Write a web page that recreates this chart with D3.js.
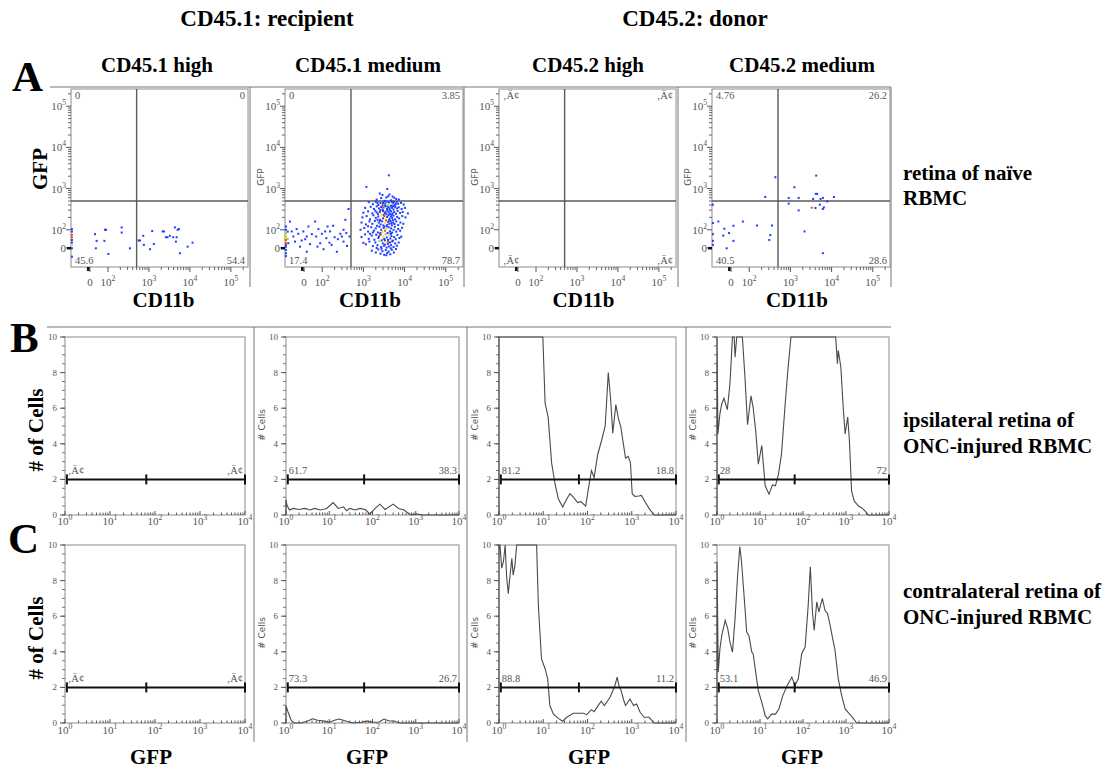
<!DOCTYPE html>
<html><head><meta charset="utf-8">
<script src="https://cdn.jsdelivr.net/npm/d3@7"></script>
<style>body{margin:0;background:#fff} text{font-family:"Liberation Serif","Times New Roman",serif}</style>
</head><body>
<svg id="c" width="1116" height="772"></svg>
<script>
// ---------------- DATA ----------------
const colHeaders = ["CD45.1: recipient", "CD45.2: donor"];
const subHeaders = ["CD45.1 high", "CD45.1 medium", "CD45.2 high", "CD45.2 medium"];
const rowLabels = [["retina of naïve", "RBMC"], ["ipsilateral retina of", "ONC-injured RBMC"], ["contralateral retina of", "ONC-injured RBMC"]];
const panelLetters = ["A", "B", "C"];
const NA = "\u201AÄ\u00A2";
// quadrant percentages: [UL, UR, LL, LR]
const quadPct = [["0", "0", "45.6", "54.4"], ["0", "3.85", "17.4", "78.7"], [NA, NA, NA, NA], ["4.76", "26.2", "40.5", "28.6"]];
const quadGate = [500, 500];
const scatterTicks = [0, 100, 1000, 10000, 100000];
// histogram gate percentages [left, right]
const gatePctB = [[NA, NA], ["61.7", "38.3"], ["81.2", "18.8"], ["28", "72"]];
const gatePctC = [[NA, NA], ["73.3", "26.7"], ["88.8", "11.2"], ["53.1", "46.9"]];
const histGate = [1.1, 64, 10000];
const histXTicks = [1, 10, 100, 1000, 10000];
const histYTicks = [0, 2, 4, 6, 8, 10];

// scatter events [CD11b, GFP, densityLevel]
const scatterA1 = [[-100,104],[-100,90],[-100,72,3],[-100,59,3],[-100,44],[-100,29],[-100,17,2],[-100,-2],[-100,-48],
 [28,76],[83,100],[89,100],[37,39],[80,39],[33,-2],[102,-33],[216,114],[216,85],[344,-2],[560,41],[603,41],[725,67],[750,17],
 [1060,-7],[1200,93],[1320,22],[2160,91],[2320,91],[2590,59],[2840,59],[3250,67],[3900,59],[4300,114],[4750,59],[5010,100],
 [5400,104],[5700,-29],[4550,35],[8800,7],[11600,29]];
const scatterA2 = [
 [-100,120],[-100,100],[-100,82,1],[-100,72,2],[-100,63,1],[-100,54,2],[-100,44,3],[-100,35,2],[-100,26,3],[-100,17],[-100,7],[-100,-11],[-100,-29],[-100,-45],[-90,90],[-90,50,1],
 [-78,159],[-68,91],[-59,63],[-41,104],[-32,78],[-13,41],[-4,91],[15,63],[24,120],[33,21],[43,76],[61,159],[67,63],[79,104],[89,26],[98,78],
 [108,-7],[126,54],[135,120],[155,91],[169,17],[184,125],[200,59],[227,-21],[240,48],[275,78],[330,35],[365,175],[385,82],[400,11],[435,320],
 [460,63],[330,100],[-22,7],[15,-21],[-87,26],[-50,35],[6,48],[74,7],[150,29],[300,63],[118,91],
 [4150,2100],[1180,1100],[3800,980],[2500,760],
 [2900,700],[4300,720],[5100,640],[3600,610],[6300,560],[2100,540],[4700,520],[3300,505],[5600,600],[7300,540],[4000,650],[2700,590],
 [1350,470],[1700,420],[2000,480],[2300,400],[2600,450],[2900,390],[3100,470],[3400,430],[3700,480],[3900,400,1],[4200,460],[4500,420,2],
 [4900,475],[5300,440],[5800,400],[6400,470],[7000,430],[8200,450],[9500,410],[3000,440],[4700,390],[5500,480],[2200,450],[6100,420],
 [1100,340],[1500,360],[1800,320],[2100,370],[2400,330],[2700,355],[2950,310],[3200,345,1],[3500,370],[3750,320],[4000,355],[4300,330],
 [4600,370],[5000,340],[5400,310],[5900,360],[6500,330],[7200,350],[8500,320],[10200,340],[2600,300],[4400,300],[3300,380],[5200,375],[3000,350,3],
 [1000,260],[1300,280],[1650,250],[1950,290],[2250,240],[2500,270],[2800,235,2],[3000,285],[3300,255],[3600,240],[3850,290],[4100,265],
 [4400,240],[4700,280],[5100,250],[5600,270],[6200,245],[6800,285],[7800,255],[9000,270],[2100,265],[3450,275],[4900,232],[12000,250],
 [950,200],[1200,215],[1450,180],[1750,225],[2000,195],[2300,210],[2550,175],[2750,220,2],[3000,190],[3250,215,3],[3500,180,2],[3800,205],
 [4050,225],[4350,185],[4650,210],[5000,195],[5400,220],[5900,180],[6600,205],[7400,190],[8800,215],[10500,200],[2200,175],[3100,228],[4200,170],[5200,172],
 [900,150],[1150,135],[1400,160],[1650,140],[1900,165],[2150,125],[2350,150],[2600,135],[2850,160],[3050,128],[3300,145,2],[3550,168,3],
 [3800,132],[4000,155],[4300,140],[4600,162],[4900,128],[5300,150],[5700,138],[6300,160],[7000,130],[7900,150],[9300,140],[2500,165],[3700,122],[4800,145],[1300,122],
 [850,100],[1050,110],[1300,90],[1550,115],[1800,95],[2000,108],[2250,85],[2450,118],[2700,100],[2900,88,2],[3100,112],[3350,95,3],
 [3600,105,2],[3850,82],[4100,115],[4400,92],[4700,108],[5000,85],[5400,100],[5800,118],[6300,90],[7000,105],[7800,95],[8700,112],[2600,82],[3250,120],[4550,80],[1700,85],
 [900,60],[1100,75],[1350,50],[1600,68],[1850,45],[2050,72],[2300,55],[2550,78],[2800,42],[3000,62,2],[3200,50],[3450,75,1],[3700,58],[3950,44],
 [4200,70,2],[4500,52],[4800,65],[5200,40],[5600,60],[6100,48],[6700,72],[7500,55],[8300,62],[2400,64],[3350,42],[4650,78],[1450,78],[2600,72,3],
 [1150,20],[1400,35],[1700,10],[1950,30],[2200,15],[2450,38,1],[2700,5],[2950,25],[3150,12],[3400,33,2],[3650,2],[3900,22],[4150,8],[4400,30],
 [4700,15],[5000,36],[5400,5],[5900,25],[6500,12],[7200,30],[2100,0],[3300,18],[4600,-2],[1000,28],[4000,33,3],
 [1600,-15],[2000,-25],[2300,-8],[2600,-32],[2900,-18],[3200,-38],[3500,-12],[3800,-28],[4100,-20],[4500,-35],[4900,-10],[5500,-25],[2750,-5],[3600,-40],[6200,-6]];
const scatterA3 = [];
const scatterA4 = [[-100,407],[-100,146],[-100,76],[-100,39],[-100,17],
 [-70,159],[-37,106],[-43,68],[-24,-2],[-11,82],[13,125],[13,39],[65,159],[154,127],[245,627],[307,44],[325,71],[357,127],[431,1890],
 [910,594],[910,431],[1250,1080],[1590,594],[1590,296],[2200,91],[3300,344,3],[3570,560],[4060,338],[4140,745],[4220,2070],[4460,745],
 [5170,407],[5380,560],[6150,321],[6150,594],[6500,350],[6150,-29],[7850,490],[11400,627]];

// histograms [GFP, # cells]
const histB1 = [];
const histB2 = [[1,0],[1,0.85],[1.05,0.56],[1.2,0.28],[1.48,0.37],[1.95,0.31],[2.75,0.37],[3.55,0.28],[4.68,0.37],[6.17,0.28],[8.7,0.37],[12.3,0.7],[16.2,0.37],[21.4,0.46],[25.1,0.24],[30.2,0.37],[39.8,0.28],[51.3,0.37],[67.6,0.31],[87,0.06],[115,0.37],[148,0.61],[195,0.31],[302,0.61],[398,0.37],[537,0.28],[676,0.09],[813,0],[1047,0.06],[1380,0],[10000,0]];
const histB3 = [[1,0],[1,10],[9.8,10],[11,6.3],[12.9,5.5],[15.5,2.9],[18.6,1.7],[22,0.9],[27.5,0.45],[34,0.9],[40,1.2],[48,1.0],[60,0.7],[71,0.75],[91,0.5],[105,1.5],[123,2.5],[141,2.1],[170,3.4],[209,4.2],[251,5.0],[295,8.0],[331,6.6],[372,4.6],[437,6.2],[501,5.4],[562,5.0],[646,4.0],[724,3.2],[832,3.3],[933,2.95],[1023,1.2],[1175,1.05],[1445,1.07],[1660,1.1],[2042,0.7],[2570,0.3],[3236,0],[10000,0]];
const histB4 = [[1,0],[1,10],[1.05,4.55],[1.17,5.7],[1.29,6.24],[1.45,6.56],[1.74,5.92],[2.0,7.37],[2.29,10],[2.51,10],[2.63,8.87],[2.88,10],[3.89,10],[4.47,7.74],[5.13,5.07],[6.17,6.7],[6.92,6.05],[7.94,4.74],[9.12,2.86],[11,3.9],[13.2,1.64],[16.2,1.17],[19.5,1.69],[22.9,1.64],[26.9,2.3],[31.6,3.42],[38,6.05],[43.7,7.93],[52.5,10],[575,10],[631,8.5],[661,9.25],[759,8.3],[871,5.86],[955,4.55],[1096,5.5],[1202,4.17],[1349,1.35],[1549,0.79],[1950,0.5],[2291,0.41],[2754,0.23],[3311,0],[10000,0]];
const histC1 = [];
const histC2 = [[1,0],[1,0.98],[1.12,0.6],[1.32,0.15],[1.55,0],[2.24,0],[3.16,0.11],[4.17,0.24],[5.37,0.15],[7.59,0.11],[10,0.04],[13.2,0.15],[17,0.22],[24,0.11],[34.7,0],[53.7,0.04],[75.9,0.11],[100,0.04],[141,0.06],[186,0.22],[240,0.11],[316,0.11],[417,0],[10000,0]];
const histC3 = [[1,0],[1,10],[1.05,10],[1.15,8.7],[1.26,9.06],[1.38,10],[1.48,8.3],[1.62,7.27],[1.78,8.3],[1.95,9.25],[2.09,8.3],[2.29,8.87],[2.51,10],[7.08,10],[7.76,6.6],[9.12,3.6],[11,3.05],[12.6,2.48],[14.1,0.98],[17,0.5],[21.9,0.26],[27.5,0.1],[33.9,0.32],[47.9,0.55],[81.3,0.55],[95.5,0.47],[123,0.75],[141,0.64],[204,1.22],[240,0.98],[324,1.45],[417,2.1],[468,2.58],[513,2.1],[575,1.82],[646,1.35],[724,0.98],[912,1.35],[1096,0.98],[1288,1.07],[1549,0.6],[1905,0.32],[2455,0.32],[3236,0],[10000,0]];
const histC4 = [[1,0],[1,9.06],[1.07,2.86],[1.17,4.17],[1.29,4.92],[1.55,5.77],[1.78,5.3],[2.0,4.55],[2.29,3.98],[2.63,5.86],[3.02,8.3],[3.39,9.9],[3.72,9.06],[4.37,6.8],[4.9,5.11],[5.5,4.92],[6.46,3.98],[6.92,3.89],[7.94,2.86],[9.12,1.82],[11,1.17],[13.2,0.41],[15.1,0.23],[18.6,0.5],[22.9,0.5],[27.5,0.79],[33.9,1.54],[42.7,2.1],[55,2.58],[64.6,2.1],[77.6,2.48],[93.3,3.89],[112,4.27],[132,6.6],[148,8.77],[166,6.24],[182,5.2],[209,6.8],[234,6.24],[282,7.0],[324,6.33],[372,6.15],[427,5.5],[490,4.74],[550,4.17],[661,2.48],[794,1.54],[955,0.79],[1122,0.6],[1413,0.32],[1778,0],[10000,0]];

// ---------------- DRAWING ----------------
const svg = d3.select('#c');
const serif = '"Liberation Serif", "Times New Roman", serif';
const sans = '"DejaVu Sans", sans-serif';
const dens = ['#1f3cff', '#7ee04a', '#f0e030', '#ff4422'];
const frameCol = '#8c8c8c', tickTxt = '#555';

function txt(x, y, s, size, o = {}) {
  return svg.append('text').attr('x', x).attr('y', y).style('font-family', o.ff || serif)
    .style('font-weight', o.fw || 'bold').style('font-size', size + 'px').attr('fill', o.fill || '#000')
    .attr('text-anchor', o.anchor || 'start').text(s);
}
function rtxt(x, y, s, size, o = {}) {
  return svg.append('text').attr('transform', `translate(${x},${y}) rotate(-90)`)
    .style('font-family', o.ff || serif).style('font-weight', o.fw || 'bold').style('font-size', size + 'px')
    .attr('fill', o.fill || '#000').attr('text-anchor', 'middle').text(s);
}
function small(g, x, y, size, anchor) {
  return g.append('text').attr('x', x).attr('y', y).attr('text-anchor', anchor)
    .style('font-family', serif).style('font-size', size + 'px').attr('fill', tickTxt);
}
function powLabel(sel, v) {
  if (v === 0) { sel.text('0'); return; }
  const e = Math.round(Math.log10(v));
  sel.append('tspan').text('10');
  sel.append('tspan').attr('dy', -5).style('font-size', '0.7em').text(e);
}
function line(g, x1, y1, x2, y2, col, w) {
  g.append('line').attr('x1', x1).attr('y1', y1).attr('x2', x2).attr('y2', y2).attr('stroke', col).attr('stroke-width', w || 1);
}

// headers
txt(267, 26, colHeaders[0], 23, {anchor: 'middle'});
txt(695, 26, colHeaders[1], 23, {anchor: 'middle'});
[157, 368, 588, 802].forEach((cx, i) => txt(cx, 72, subHeaders[i], 21, {anchor: 'middle'}));
txt(12, 91, panelLetters[0], 43);
txt(10, 352, panelLetters[1], 43);
txt(8, 553, panelLetters[2], 43);
txt(903, 180, rowLabels[0][0], 21); txt(903, 205, rowLabels[0][1], 21);
txt(903, 427, rowLabels[1][0], 21); txt(903, 453, rowLabels[1][1], 21);
txt(903, 598, rowLabels[2][0], 21); txt(903, 624, rowLabels[2][1], 21);

// panel grid lines
const gl = svg.append('g');
line(gl, 50, 87, 891, 87, '#777');
[250, 464, 678, 891].forEach(x => line(gl, x, 87, x, 287, '#777'));
line(gl, 47, 327, 891, 327, '#777');
[254, 467, 686].forEach(x => line(gl, x, 327, x, 742, '#777'));

// ----- scatter (row A) -----
function biex(r0, r1) {
  const p = r0 + (r1 - r0) * 37 / 177;
  const lin = d3.scaleLinear().domain([-105, 100]).range([r0, p]);
  const lg = d3.scaleLog().domain([100, 262144]).range([p, r1]);
  return v => (v < 100 ? lin(v) : lg(v));
}
const aCols = [{l: 71, r: 248}, {l: 285, r: 463}, {l: 499, r: 676}, {l: 712, r: 890}];
const aTop = 89, aBot = 267;
const scatterData = [scatterA1, scatterA2, scatterA3, scatterA4];
const minorA = [];
[100, 1000, 10000].forEach(d => { for (let k = 2; k <= 9; k++) minorA.push(k * d); });
minorA.push(200000);

scatterData.forEach((pts, i) => {
  const {l, r} = aCols[i];
  const x = biex(l, r), y = biex(aBot, aTop);
  const g = svg.append('g');
  g.append('rect').attr('x', l).attr('y', aTop).attr('width', r - l).attr('height', aBot - aTop)
    .attr('fill', 'none').attr('stroke', frameCol);
  minorA.forEach(v => { line(g, l - 3, y(v), l, y(v), '#666'); line(g, x(v), aBot, x(v), aBot + 3, '#666'); });
  scatterTicks.forEach(v => {
    line(g, l - 5, y(v), l, y(v), '#555'); line(g, x(v), aBot, x(v), aBot + 5, '#555');
    powLabel(small(g, l - 5, y(v) + 4, 11, 'end'), v);
    powLabel(small(g, x(v), 286, 11, 'middle'), v);
  });
  g.append('rect').attr('x', l - 4).attr('y', y(0) - 1).attr('width', 4).attr('height', 2.5).attr('fill', '#111');
  g.append('rect').attr('x', x(0) - 3).attr('y', aBot).attr('width', 2.5).attr('height', 4).attr('fill', '#111');
  line(g, x(quadGate[0]), aTop, x(quadGate[0]), aBot, '#5a5a5a', 1.4);
  line(g, l, y(quadGate[1]), r, y(quadGate[1]), '#5a5a5a', 1.4);
  const sorted = pts.slice().sort((a, b) => (a[2] || 0) - (b[2] || 0));
  g.selectAll('rect.ev').data(sorted).join('rect').attr('class', 'ev')
    .attr('x', d => x(d[0]) - 1).attr('y', d => y(d[1]) - 1).attr('width', 2).attr('height', 2)
    .attr('fill', d => dens[d[2] || 0]);
  const q = quadPct[i];
  small(g, l + 4, aTop + 10, 10.5, 'start').text(q[0]);
  small(g, r - 3, aTop + 10, 10.5, 'end').text(q[1]);
  small(g, l + 4, aBot - 3, 10.5, 'start').text(q[2]);
  small(g, r - 3, aBot - 3, 10.5, 'end').text(q[3]);
  txt((l + r) / 2 + (i === 0 ? 4 : -4), 307, 'CD11b', 21, {anchor: 'middle'});
  if (i === 0) rtxt(47, 169, 'GFP', 21);
  else rtxt(l - 21, 177, 'GFP', 9, {ff: sans, fw: 'normal', fill: '#555'});
});

// ----- histograms (rows B, C) -----
const hCols = [{l: 65, r: 245}, {l: 286, r: 459}, {l: 499, r: 676}, {l: 717, r: 889}];
const hRows = [{t: 337, b: 515, lab: 525}, {t: 545, b: 723, lab: 734}];
const histData = [[histB1, histB2, histB3, histB4], [histC1, histC2, histC3, histC4]];
const gatePct = [gatePctB, gatePctC];
const minorH = [];
[1, 10, 100, 1000].forEach(d => { for (let k = 2; k <= 9; k++) minorH.push(k * d); });

histData.forEach((rowData, ri) => {
  const {t, b, lab} = hRows[ri];
  rowData.forEach((data, ci) => {
    const {l, r} = hCols[ci];
    const x = d3.scaleLog().domain([1, 10000]).range([l, r]);
    const y = d3.scaleLinear().domain([0, 10]).range([b, t]).clamp(true);
    const g = svg.append('g');
    g.append('rect').attr('x', l).attr('y', t).attr('width', r - l).attr('height', b - t)
      .attr('fill', 'none').attr('stroke', frameCol);
    for (let v = 0; v <= 10; v += 0.5) line(g, l - 3, y(v), l, y(v), '#777');
    histYTicks.forEach(v => {
      line(g, l - 5, y(v), l, y(v), '#555');
      small(g, l - 8, y(v) + 3, 9, 'end').text(v);
    });
    minorH.forEach(v => line(g, x(v), b, x(v), b - 2.5, '#555'));
    histXTicks.forEach(v => {
      line(g, x(v), b, x(v), b - 4, '#555');
      powLabel(small(g, x(v), lab, 11, 'middle'), v);
    });
    if (data.length) {
      g.append('path').datum(data).attr('fill', 'none').attr('stroke', '#4a4a4a').attr('stroke-width', 1.1)
        .attr('d', d3.line().x(d => x(d[0])).y(d => y(d[1])));
    }
    const gy = y(2);
    line(g, x(histGate[0]), gy, x(histGate[2]), gy, '#111', 2);
    histGate.forEach(v => line(g, x(v), gy - 5, x(v), gy + 5, '#111', 2));
    const gp = gatePct[ri][ci];
    small(g, x(histGate[0]) + 1, gy - 5, 10.5, 'start').text(gp[0]);
    small(g, r - 2, gy - 5, 10.5, 'end').text(gp[1]);
    if (ci === 0) rtxt(43, (t + b) / 2 + 4, '# of Cells', 21);
    else rtxt(l - 21, (t + b) / 2 - 1, '# Cells', 9, {ff: sans, fw: 'normal', fill: '#555'});
    if (ri === 1) txt([151, 367, 589, 802][ci], 764, 'GFP', 21, {anchor: 'middle'});
  });
});
</script>
</body></html>
